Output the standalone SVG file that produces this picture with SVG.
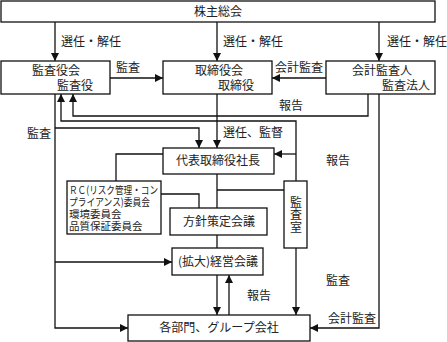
<svg xmlns="http://www.w3.org/2000/svg" width="447" height="342" viewBox="0 0 447 342">
<style>
.b{fill:#fff;stroke:#111;stroke-width:1.3}
.c{fill:none;stroke:#111;stroke-width:1.3}
.a{marker-end:url(#ar)}
text{font-family:"Noto Sans CJK JP","Noto Sans",sans-serif;font-size:12px;fill:#222}
.m{text-anchor:middle}
.s{font-size:10.5px}
</style>
<defs>
<marker id="ar" markerUnits="userSpaceOnUse" markerWidth="9" markerHeight="8" refX="8" refY="4" orient="auto">
<path d="M0,0 L8,4 L0,8 z" fill="#111"/>
</marker>
</defs>
<g id="connectors">
<path class="c a" d="M55,22 V61"/>
<path class="c a" d="M217,22 V61"/>
<path class="c a" d="M379,22 V61"/>
<path class="c a" d="M110,78 H163"/>
<path class="c a" d="M326,78 H272"/>
<path class="c a" d="M368,94 V116 H73 V94"/>
<path class="c a" d="M296,181 V121 H61 V94"/>
<path class="c a" d="M296,154 H274"/>
<path class="c a" d="M55,94 V328 H128"/>
<path class="c a" d="M55,128 H199 V148"/>
<path class="c a" d="M55,262 H172"/>
<path class="c a" d="M217,94 V148"/>
<path class="c" d="M163,154 H116 V181"/>
<path class="c" d="M161,194 H199 V208"/>
<path class="c" d="M217,174 V208"/>
<path class="c" d="M217,190 H284"/>
<path class="c" d="M217,235 V248"/>
<path class="c a" d="M217,275 V315"/>
<path class="c a" d="M229,315 V275"/>
<path class="c a" d="M296,248 V315"/>
<path class="c a" d="M379,94 V328 H310"/>
</g>
<g id="labels">
<text x="61" y="46">選任・解任</text>
<text x="223" y="46">選任・解任</text>
<text x="387" y="46">選任・解任</text>
<text x="116" y="72">監査</text>
<text x="275" y="72">会計監査</text>
<text x="279" y="110">報告</text>
<text x="27" y="138">監査</text>
<text x="223" y="137">選任、監督</text>
<text x="326" y="165">報告</text>
<text x="326" y="285">監査</text>
<text x="328" y="323">会計監査</text>
<text x="247" y="300">報告</text>
</g>
<g id="shareholders"><rect class="b" x="1" y="1" width="434" height="21"/><text class="m" x="218" y="16">株主総会</text></g>
<g id="auditors"><rect class="b" x="1" y="61" width="109" height="33"/><text x="32" y="75">監査役会</text><text x="57" y="90">監査役</text></g>
<g id="board"><rect class="b" x="163" y="61" width="109" height="33"/><text x="195" y="75">取締役会</text><text x="218" y="90">取締役</text></g>
<g id="accounting"><rect class="b" x="326" y="61" width="109" height="33"/><text x="352" y="75">会計監査人</text><text x="382" y="90">監査法人</text></g>
<g id="ceo"><rect class="b" x="163" y="148" width="111" height="26"/><text class="m" x="218" y="165">代表取締役社長</text></g>
<g id="rc"><rect class="b" x="67" y="181" width="94" height="53"/>
<text class="s"><tspan x="69" y="194" textLength="89" lengthAdjust="spacingAndGlyphs">ＲＣ(リスク管理・コン</tspan><tspan x="69" y="206" textLength="81" lengthAdjust="spacingAndGlyphs">プライアンス)委員会</tspan><tspan x="69" y="218">環境委員会</tspan><tspan x="69" y="230">品質保証委員会</tspan></text></g>
<g id="audit-office"><rect class="b" x="284" y="181" width="23" height="67"/><text x="296" y="196" style="writing-mode:vertical-rl;letter-spacing:0.5px">監査室</text></g>
<g id="policy"><rect class="b" x="170" y="208" width="97" height="27"/><text class="m" x="219" y="226">方針策定会議</text></g>
<g id="mgmt"><rect class="b" x="172" y="248" width="91" height="27"/><text class="m" x="218" y="266">(拡大)経営会議</text></g>
<g id="depts"><rect class="b" x="128" y="315" width="182" height="26"/><text class="m" x="219" y="332">各部門、グループ会社</text></g>
</svg>
